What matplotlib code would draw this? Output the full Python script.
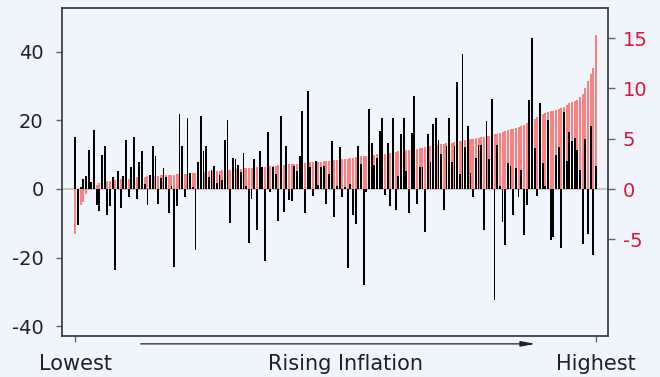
import numpy as np
import matplotlib.pyplot as plt

# inflation (right axis), sorted from lowest to highest
inflation = [
    -4.5, -2.4, -1.6, -1.3, -0.5, 0.1, 0.2, 0.3, 0.4, 0.6,
    0.6, 0.7, 0.8, 0.8, 0.8, 0.9, 1.0, 1.0, 1.0, 1.0,
    1.05, 1.1, 1.1, 1.2, 1.2, 1.2, 1.25, 1.3, 1.3, 1.3,
    1.3, 1.35, 1.4, 1.4, 1.4, 1.4, 1.45, 1.45, 1.5, 1.5,
    1.5, 1.5, 1.55, 1.55, 1.6, 1.6, 1.65, 1.7, 1.7, 1.7,
    1.75, 1.75, 1.8, 1.8, 1.8, 1.85, 1.85, 1.9, 1.9, 1.9,
    1.95, 2.0, 2.0, 2.05, 2.1, 2.1, 2.1, 2.15, 2.15, 2.2,
    2.2, 2.2, 2.25, 2.3, 2.3, 2.3, 2.35, 2.35, 2.4, 2.4,
    2.45, 2.5, 2.5, 2.5, 2.55, 2.55, 2.6, 2.6, 2.65, 2.65,
    2.7, 2.7, 2.7, 2.75, 2.75, 2.8, 2.8, 2.85, 2.9, 2.9,
    2.95, 3.0, 3.0, 3.05, 3.1, 3.15, 3.2, 3.25, 3.3, 3.3,
    3.35, 3.4, 3.4, 3.45, 3.45, 3.5, 3.5, 3.55, 3.6, 3.65,
    3.7, 3.75, 3.8, 3.8, 3.85, 3.9, 3.95, 4.0, 4.0, 4.05,
    4.1, 4.15, 4.2, 4.25, 4.3, 4.35, 4.4, 4.45, 4.5, 4.55,
    4.55, 4.6, 4.65, 4.7, 4.75, 4.8, 4.85, 4.9, 4.95, 5.0,
    5.05, 5.1, 5.15, 5.2, 5.25, 5.3, 5.4, 5.45, 5.5, 5.55,
    5.65, 5.75, 5.85, 5.95, 6.0, 6.1, 6.2, 6.3, 6.4, 6.6,
    6.8, 6.9, 7.0, 7.2, 7.35, 7.45, 7.6, 7.7, 7.75, 7.8,
    7.9, 8.0, 8.1, 8.2, 8.4, 8.6, 8.7, 8.75, 8.9, 9.2,
    9.5, 10.0, 10.7, 11.4, 12.0, 15.3,
]

# returns (left axis), same order
returns = [
    15.3, -10.5, 0.5, 2.9, 3.8, 11.4, 1.9, 17.2, -4.7, -6.3,
    10.0, 12.6, -7.6, -5.1, 3.5, -23.7, 5.3, -5.6, 3.8, 14.3,
    -2.3, 6.4, 15.3, -3.0, 7.9, 11.1, 1.5, -4.7, 4.1, 12.6,
    9.6, -4.4, 3.2, 6.0, 3.5, -6.9, 0.8, -22.7, -5.1, 21.9,
    12.6, -2.4, 20.7, 4.7, 0.6, -17.8, 7.9, 21.3, 11.0, 12.6,
    3.6, 5.5, 6.7, 1.7, 4.1, 2.6, 14.3, 20.1, -9.8, 9.0,
    8.7, 7.1, 5.0, 10.4, 0.9, -15.9, -3.0, 8.7, -12.0, 11.1,
    6.5, -20.9, 16.6, -1.0, 6.5, 4.5, -9.3, 21.2, -6.6, 12.6,
    -3.2, -3.6, 6.8, 5.3, 9.6, 22.8, -6.9, 28.6, 6.3, -2.1,
    8.3, 1.2, 6.5, 6.8, -4.3, 4.4, 14.0, -8.1, 1.0, 12.1,
    -2.4, 0.5, -23.2, 1.5, -7.6, -10.1, 12.6, 7.3, -28.0, -1.0,
    23.4, 13.3, 6.9, 8.9, 16.9, 20.7, -1.8, 13.3, -5.1, 20.7,
    -6.0, 3.8, 16.0, 20.7, 5.3, -7.0, 16.3, 27.2, -4.3, 6.3,
    6.3, -12.5, 16.0, 7.9, 19.0, 20.7, 14.3, 10.2, -6.0, 12.4,
    20.7, 7.9, 12.4, 31.2, 4.4, 39.4, 12.3, 18.4, 4.6, -2.3,
    9.0, 12.8, 12.8, -12.0, 19.8, 8.8, 26.3, -32.4, 12.8, 1.0,
    -9.6, -16.4, 7.5, 6.7, -7.6, 6.0, -2.4, 5.5, -13.4, -4.7,
    26.0, 44.0, 12.0, -2.0, 25.0, 7.5, 1.0, 20.1, -14.9, -14.0,
    9.9, 12.2, -17.3, 22.5, 8.2, 16.7, 14.1, 14.9, 11.4, 5.5,
    -16.1, 14.5, -13.2, 18.4, -19.3, 6.7,
]

left_ticks = [-40, -20, 0, 20, 40]
right_ticks = [-5, 0, 5, 10, 15]
x_labels = ["Lowest", "Rising Inflation", "Highest"]

x = np.arange(len(inflation))

fig = plt.figure(figsize=(6.6, 3.77), dpi=100, facecolor="#f0f4fb")
ax = fig.add_axes([62 / 660, 1 - 336 / 377, 546 / 660, 328 / 377])
axr = ax.twinx()
ax.set_zorder(2)
axr.set_zorder(1)
ax.patch.set_visible(False)
axr.patch.set_facecolor("white")

axr.axhline(0, color="#c8c8c8", lw=1.5, zorder=0)
axr.bar(x, inflation, width=0.75, color="#ff8080", linewidth=0)
ax.bar(x, returns, width=0.7, color="black", linewidth=0)

ax.set_xlim(-5, 199.5)
ax.set_ylim(-42.9, 52.8)
axr.set_ylim(-14.6, 18.0)

ax.set_yticks(left_ticks)
ax.set_yticklabels([str(t) for t in left_ticks])
axr.set_yticks(right_ticks)
axr.set_yticklabels([str(t) for t in right_ticks])

ax.set_xticks([0, 101, len(inflation) - 1])
ax.set_xticklabels(x_labels)
ax.xaxis.get_major_ticks()[1].tick1line.set_visible(False)

ax.tick_params(axis="y", direction="out", length=4.3, width=1, color="#666666",
               labelsize=14, labelcolor="#222222", pad=9)
axr.tick_params(axis="y", direction="out", length=5, width=1, color="#666666",
                labelsize=14, labelcolor="#dc143c", pad=5.5)
ax.tick_params(axis="x", direction="out", length=4.3, width=1, color="#666666",
               labelsize=15, labelcolor="#222222", pad=9)

for s in ax.spines.values():
    s.set_color("#333333")
    s.set_linewidth(1.2)
for s in axr.spines.values():
    s.set_visible(False)

ax.annotate("", xy=(0.872, -0.024), xytext=(0.139, -0.024), xycoords="axes fraction",
            arrowprops=dict(arrowstyle="-|>,head_length=0.86,head_width=0.16",
                            color="#222222", lw=0.9, mutation_scale=10),
            annotation_clip=False)

fig.savefig("out.png", dpi=100, facecolor=fig.get_facecolor())
